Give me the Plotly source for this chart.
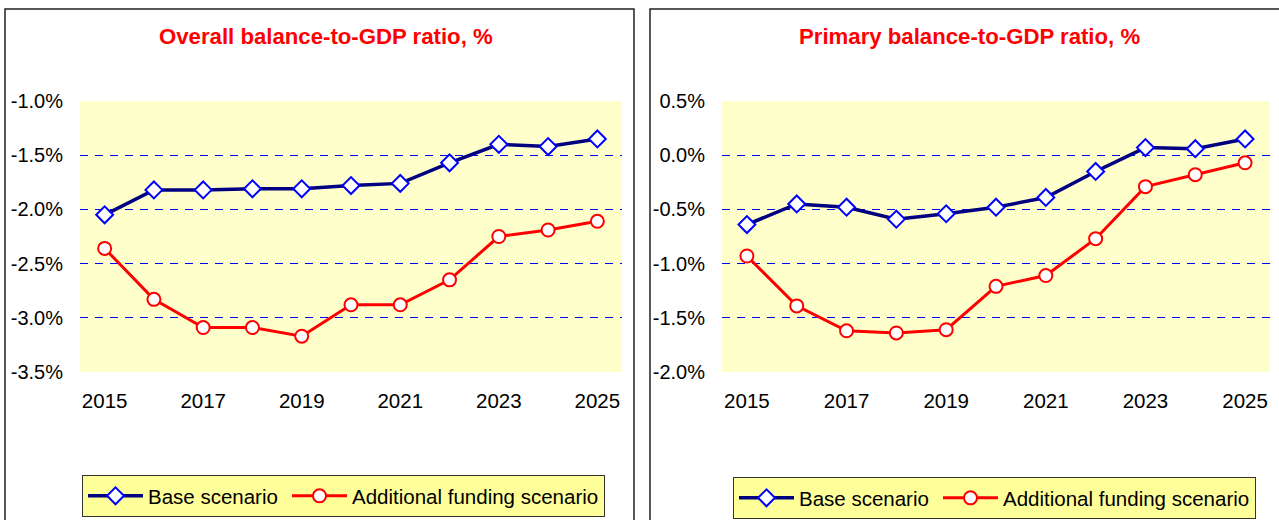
import plotly.graph_objects as go

years = [2015, 2016, 2017, 2018, 2019, 2020, 2021, 2022, 2023, 2024, 2025]

overall_base = [-2.05, -1.82, -1.82, -1.81, -1.81, -1.78, -1.76, -1.57, -1.40, -1.42, -1.35]
overall_add = [-2.36, -2.83, -3.09, -3.09, -3.17, -2.88, -2.88, -2.65, -2.25, -2.19, -2.11]

primary_base = [-0.64, -0.45, -0.48, -0.59, -0.54, -0.48, -0.39, -0.15, 0.07, 0.06, 0.15]
primary_add = [-0.93, -1.39, -1.62, -1.64, -1.61, -1.21, -1.11, -0.77, -0.29, -0.18, -0.07]

x_tickvals = [2015, 2017, 2019, 2021, 2023, 2025]
x_ticktext = ["2015", "2017", "2019", "2021", "2023", "2025"]

left_yvals = [-3.5, -3.0, -2.5, -2.0, -1.5, -1.0]
left_ytext = ["-3.5%", "-3.0%", "-2.5%", "-2.0%", "-1.5%", "-1.0%"]
right_yvals = [-2.0, -1.5, -1.0, -0.5, 0.0, 0.5]
right_ytext = ["-2.0%", "-1.5%", "-1.0%", "-0.5%", "0.0%", "0.5%"]

titles = ["Overall balance-to-GDP ratio, %", "Primary balance-to-GDP ratio, %"]
series_names = ["Base scenario", "Additional funding scenario"]

FONT = "Liberation Sans, Arial, sans-serif"
W, H = 1279, 520

fig = go.Figure()

def add_pair(base, add, xa, ya, legend):
    fig.add_trace(go.Scatter(
        x=years, y=base, name=series_names[0], mode="lines+markers",
        xaxis=xa, yaxis=ya, legend=legend, cliponaxis=False, legendwidth=134,
        line=dict(color="#000080", width=3.5),
        marker=dict(symbol="diamond", size=13, color="white",
                    line=dict(color="#0000FF", width=2)),
    ))
    fig.add_trace(go.Scatter(
        x=years, y=add, name=series_names[1], mode="lines+markers",
        xaxis=xa, yaxis=ya, legend=legend, cliponaxis=False,
        line=dict(color="#FF0000", width=3),
        marker=dict(symbol="circle", size=13, color="white",
                    line=dict(color="#FF0000", width=2)),
    ))

add_pair(overall_base, overall_add, "x", "y", "legend")
add_pair(primary_base, primary_add, "x2", "y2", "legend2")

ydom = [1 - 372 / H, 1 - 101 / H]

xcommon = dict(range=[2014.5, 2025.5], tickvals=x_tickvals, ticktext=x_ticktext,
               showgrid=False, zeroline=False, showline=False, automargin=False,
               ticks="", ticklabelstandoff=14,
               tickfont=dict(family=FONT, size=20.5, color="black"))
ycommon = dict(showgrid=True, gridcolor="#0000FF", gridwidth=1, griddash="8px,7px",
               zeroline=False, showline=False, automargin=False,
               ticks="", ticklabelstandoff=16,
               tickfont=dict(family=FONT, size=20, color="black"))

legend_common = dict(orientation="h", xanchor="left", yanchor="top",
                     xref="container", yref="container",
                     bgcolor="#FFFF99", bordercolor="#333333", borderwidth=1,
                     font=dict(family=FONT, size=20.5, color="black"), itemwidth=55)

fig.update_layout(
    width=W, height=H,
    margin=dict(l=0, r=0, t=0, b=0, autoexpand=False),
    paper_bgcolor="white",
    plot_bgcolor="#FFFFCC",
    showlegend=True,
    hovermode=False,
    xaxis=dict(domain=[80 / W, 622 / W], anchor="y", **xcommon),
    yaxis=dict(domain=ydom, anchor="x", range=[-3.5, -1.0],
               tickvals=left_yvals, ticktext=left_ytext, **ycommon),
    xaxis2=dict(domain=[722 / W, 1270 / W], anchor="y2", **xcommon),
    yaxis2=dict(domain=ydom, anchor="x2", range=[-2.0, 0.5],
                tickvals=right_yvals, ticktext=right_ytext, **ycommon),
    legend=dict(x=82 / W, y=1 - 475 / H, **legend_common),
    legend2=dict(x=733 / W, y=1 - 477 / H, **legend_common),
    annotations=[
        dict(text="<b>" + titles[0] + "</b>", x=326 / W, y=1 - 37 / H, xref="paper", yref="paper",
             showarrow=False, xanchor="center", yanchor="middle",
             font=dict(family=FONT, size=22.2, color="#FF0000")),
        dict(text="<b>" + titles[1] + "</b>", x=970 / W, y=1 - 37 / H, xref="paper", yref="paper",
             showarrow=False, xanchor="center", yanchor="middle",
             font=dict(family=FONT, size=22.2, color="#FF0000")),
    ],
    shapes=[
        dict(type="rect", xref="paper", yref="paper", x0=5 / W, x1=634 / W, y0=-0.05, y1=1 - 9 / H,
             line=dict(color="#222222", width=1.5), fillcolor="rgba(0,0,0,0)", layer="below"),
        dict(type="rect", xref="paper", yref="paper", x0=650 / W, x1=1.05, y0=-0.05, y1=1 - 9 / H,
             line=dict(color="#222222", width=1.5), fillcolor="rgba(0,0,0,0)", layer="below"),
    ],
)

fig.write_html("out.html", config={"displayModeBar": False},
               post_script="document.body.style.margin='0';")
